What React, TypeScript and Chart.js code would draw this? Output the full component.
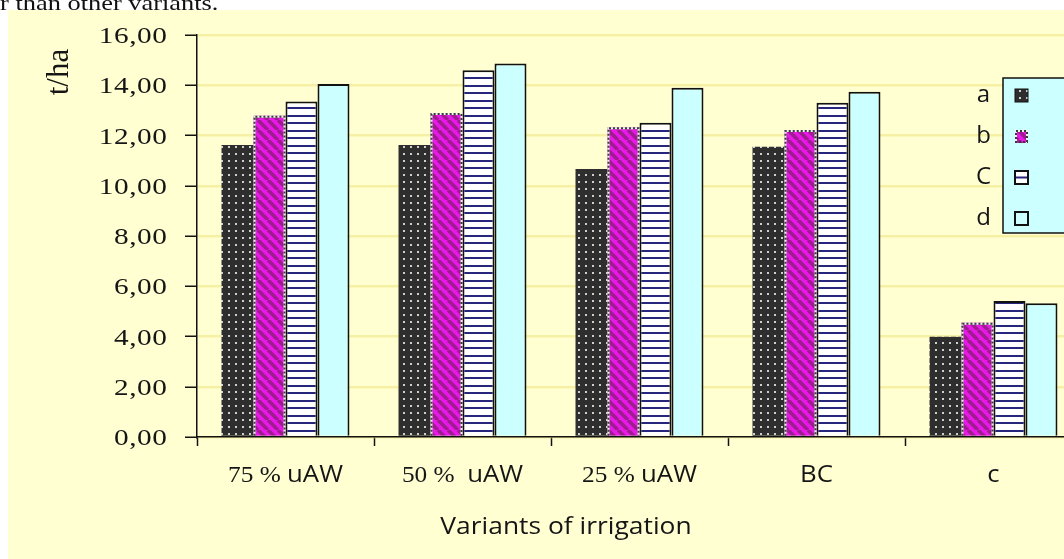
import React, { useEffect, useRef } from "react";
import { Chart, registerables } from "chart.js";

Chart.register(...registerables);

const categories: string[] = ["75 % uAW", "50 %  uAW", "25 % uAW", "BC", "c"];
const seriesNames: string[] = ["a", "b", "C", "d"];
const valuesA: number[] = [11.62, 11.62, 10.67, 11.55, 3.99];
const valuesB: number[] = [12.79, 12.9, 12.33, 12.22, 4.55];
const valuesC: number[] = [13.35, 14.6, 12.51, 13.3, 5.41];
const valuesD: number[] = [14.05, 14.87, 13.9, 13.74, 5.32];
const yMin = 0;
const yMax = 16;
const yStep = 2;
const xTitle = "Variants of irrigation";
const yTitle = "t/ha";
const captionText = "r than other variants.";

const SERIF = '"Liberation Serif", "Times New Roman", serif';
const SANS = '"Open Sans", "Noto Sans", sans-serif';
const TEXT = "#151515";

function makeCanvas(w: number, h: number) {
  const c = document.createElement("canvas");
  c.width = w;
  c.height = h;
  return c;
}

function dotsPattern(ctx: CanvasRenderingContext2D) {
  const c = makeCanvas(7, 7);
  const g = c.getContext("2d")!;
  g.fillStyle = "#2e2e2e";
  g.fillRect(0, 0, 7, 7);
  g.fillStyle = "#cfcfcf";
  g.fillRect(3, 3, 2, 2);
  return ctx.createPattern(c, "repeat")!;
}

function diagPattern(ctx: CanvasRenderingContext2D) {
  const s = 10;
  const c = makeCanvas(s, s);
  const g = c.getContext("2d")!;
  g.fillStyle = "#E818E8";
  g.fillRect(0, 0, s, s);
  g.strokeStyle = "#9E1C8E";
  g.lineWidth = 3.6;
  for (const k of [-s, 0, s]) {
    g.beginPath();
    g.moveTo(k, 0);
    g.lineTo(k + s, s);
    g.stroke();
  }
  return ctx.createPattern(c, "repeat")!;
}

function hLinePattern(ctx: CanvasRenderingContext2D) {
  const c = makeCanvas(4, 15);
  const g = c.getContext("2d")!;
  g.fillStyle = "#ffffff";
  g.fillRect(0, 0, 4, 15);
  g.fillStyle = "#26267C";
  g.fillRect(0, 0, 4, 2);
  g.fillRect(0, 7, 4, 2);
  return ctx.createPattern(c, "repeat")!;
}

function drawText(
  ctx: CanvasRenderingContext2D,
  text: string,
  x: number,
  y: number,
  font: string,
  sx: number,
  align: "left" | "center" | "right",
  spacing = 0
) {
  ctx.save();
  ctx.font = font;
  (ctx as any).letterSpacing = spacing + "px";
  ctx.fillStyle = TEXT;
  ctx.textBaseline = "alphabetic";
  ctx.textAlign = "left";
  const w = (ctx.measureText(text).width - spacing) * sx;
  const x0 = align === "left" ? x : align === "center" ? x - w / 2 : x - w;
  ctx.translate(x0, y);
  ctx.scale(sx, 1);
  ctx.fillText(text, 0, 0);
  ctx.restore();
}

function dottedBorder(ctx: CanvasRenderingContext2D, l: number, t: number, r: number, b: number) {
  ctx.save();
  ctx.lineWidth = 2;
  ctx.beginPath();
  ctx.moveTo(l + 1, b);
  ctx.lineTo(l + 1, t + 1);
  ctx.lineTo(r - 1, t + 1);
  ctx.lineTo(r - 1, b);
  ctx.strokeStyle = "#f2f2f2";
  ctx.stroke();
  ctx.setLineDash([2, 2]);
  ctx.strokeStyle = "#3a3a3a";
  ctx.stroke();
  ctx.restore();
}

export default function App() {
  const ref = useRef<HTMLCanvasElement | null>(null);

  useEffect(() => {
    const canvas = ref.current;
    if (!canvas) return;
    const ctx0 = canvas.getContext("2d")!;
    const patA = dotsPattern(ctx0);
    const patB = diagPattern(ctx0);
    const patC = hLinePattern(ctx0);
    const fills: any[] = [patA, patB, patC, "#CCFFFF"];

    const overlay = {
      id: "overlay",
      afterDatasetsDraw(chart: any) {
        const ctx: CanvasRenderingContext2D = chart.ctx;
        const meta = chart.getDatasetMeta(1);
        meta.data.forEach((bar: any) => {
          const p = bar.getProps(["x", "y", "base", "width"], true);
          dottedBorder(ctx, p.x - p.width / 2, p.y, p.x + p.width / 2, p.base);
        });
      },
      afterDraw(chart: any) {
        const ctx: CanvasRenderingContext2D = chart.ctx;
        const ys = chart.scales.y;
        const xs = chart.scales.x;
        // y tick labels
        ys.ticks.forEach((t: any) => {
          const py = ys.getPixelForValue(t.value);
          const label = Number(t.value).toFixed(2).replace(".", ",");
          drawText(ctx, label, 159, py + 8, `24px ${SERIF}`, 1.22, "right", 0.5);
        });
        // x tick labels (digits in serif, words in sans)
        categories.forEach((label, i) => {
          const cx = xs.getPixelForValue(i);
          const m = label.match(/^([\d\s%]*)(.*)$/) || ["", "", label];
          const serifPart = m[1];
          const sansPart = m[2];
          const sf = `23px ${SERIF}`;
          const nf = `23px ${SANS}`;
          const sxS = 1.1;
          const sxN = 1.12;
          ctx.save();
          ctx.font = sf;
          const w1 = ctx.measureText(serifPart).width * sxS;
          ctx.font = nf;
          const w2 = ctx.measureText(sansPart).width * sxN;
          ctx.restore();
          const x0 = cx - (w1 + w2) / 2;
          if (serifPart) drawText(ctx, serifPart, x0, 472, sf, sxS, "left");
          if (sansPart) drawText(ctx, sansPart, x0 + w1, 472, nf, sxN, "left");
        });
        // x axis title
        drawText(ctx, xTitle, 558, 524, `24px ${SANS}`, 1.1, "center");
        // y axis title (rotated)
        ctx.save();
        ctx.translate(60, 62);
        ctx.rotate(-Math.PI / 2);
        ctx.font = `31px ${SERIF}`;
        ctx.fillStyle = TEXT;
        ctx.textAlign = "center";
        ctx.textBaseline = "alphabetic";
        ctx.fillText(yTitle, 0, 0);
        ctx.restore();
        // legend
        ctx.save();
        ctx.fillStyle = "#CCFFFF";
        ctx.fillRect(995, 68, 80, 155);
        ctx.strokeStyle = "#111";
        ctx.lineWidth = 1.5;
        ctx.strokeRect(995, 68, 80, 155);
        ctx.restore();
        chart.data.datasets.forEach((ds: any, i: number) => {
          const base = 92 + i * 41;
          drawText(ctx, String(ds.label), 975.5, base, `24px ${SANS}`, 1.0, "center");
          const sx = 1007;
          const sy = base - 13;
          const s = 13;
          ctx.save();
          ctx.fillStyle = fills[i];
          ctx.fillRect(sx, sy, s, s);
          if (i === 1) {
            dottedBorder(ctx, sx, sy, sx + s, sy + s);
            ctx.beginPath();
            ctx.setLineDash([2, 2]);
            ctx.strokeStyle = "#3a3a3a";
            ctx.lineWidth = 2;
            ctx.moveTo(sx, sy + s - 1);
            ctx.lineTo(sx + s, sy + s - 1);
            ctx.stroke();
          } else if (i === 2) {
            ctx.fillStyle = "#ffffff";
            ctx.fillRect(sx, sy, s, s);
            ctx.fillStyle = "#26267C";
            ctx.fillRect(sx, sy + s / 2 - 1, s, 2);
            ctx.strokeStyle = "#111";
            ctx.lineWidth = 2;
            ctx.strokeRect(sx, sy, s, s);
          } else {
            ctx.strokeStyle = "#111";
            ctx.lineWidth = i === 0 ? 1 : 2;
            ctx.strokeRect(sx, sy, s, s);
          }
          ctx.restore();
        });
      },
    };

    const chart = new Chart(canvas, {
      type: "bar",
      data: {
        labels: categories,
        datasets: [
          { label: seriesNames[0], data: valuesA, backgroundColor: patA, borderWidth: 0 },
          { label: seriesNames[1], data: valuesB, backgroundColor: patB, borderWidth: 0 },
          { label: seriesNames[2], data: valuesC, backgroundColor: patC, borderColor: "#111", borderWidth: 2 },
          { label: seriesNames[3], data: valuesD, backgroundColor: "#CCFFFF", borderColor: "#111", borderWidth: 2 },
        ],
      },
      options: {
        responsive: false,
        animation: false,
        devicePixelRatio: 1,
        events: [],
        layout: { padding: { left: 0, top: 25, right: 26, bottom: 0 } },
        datasets: { bar: { categoryPercentage: 0.723, barPercentage: 1 } } as any,
        plugins: { legend: { display: false }, tooltip: { enabled: false }, title: { display: false } },
        scales: {
          x: {
            grid: { drawOnChartArea: false, offset: true, tickLength: 9, tickColor: "#111", tickWidth: 1.5 },
            border: { color: "#111", width: 1.5 },
            ticks: { color: "rgba(0,0,0,0)", font: { size: 1 } },
            afterFit: (s: any) => {
              s.height = 122;
            },
          },
          y: {
            min: yMin,
            max: yMax,
            ticks: { stepSize: yStep, color: "rgba(0,0,0,0)", font: { size: 1 } },
            grid: { color: "rgba(236,222,110,0.45)", lineWidth: 2.5, tickLength: 12, tickColor: "#111", tickWidth: 1.5 },
            border: { color: "#111", width: 1.5 },
            afterFit: (s: any) => {
              s.width = 189;
            },
          },
        },
      },
      plugins: [overlay],
    });
    return () => chart.destroy();
  }, []);

  return (
    <div>
      <div
        style={{
          position: "fixed",
          left: 0,
          top: -8,
          font: `22px ${SERIF}`,
          lineHeight: "22px",
          whiteSpace: "nowrap",
          transform: "scaleX(1.2)",
          transformOrigin: "0 0",
          color: "#111",
        }}
      >
        {captionText}
      </div>
      <div
        style={{
          position: "fixed",
          left: 8,
          top: 10,
          width: 1056,
          height: 549,
          background: "#FFFFD2",
          overflow: "hidden",
        }}
      >
        <canvas ref={ref} width={1100} height={549} style={{ display: "block" }} />
      </div>
    </div>
  );
}
